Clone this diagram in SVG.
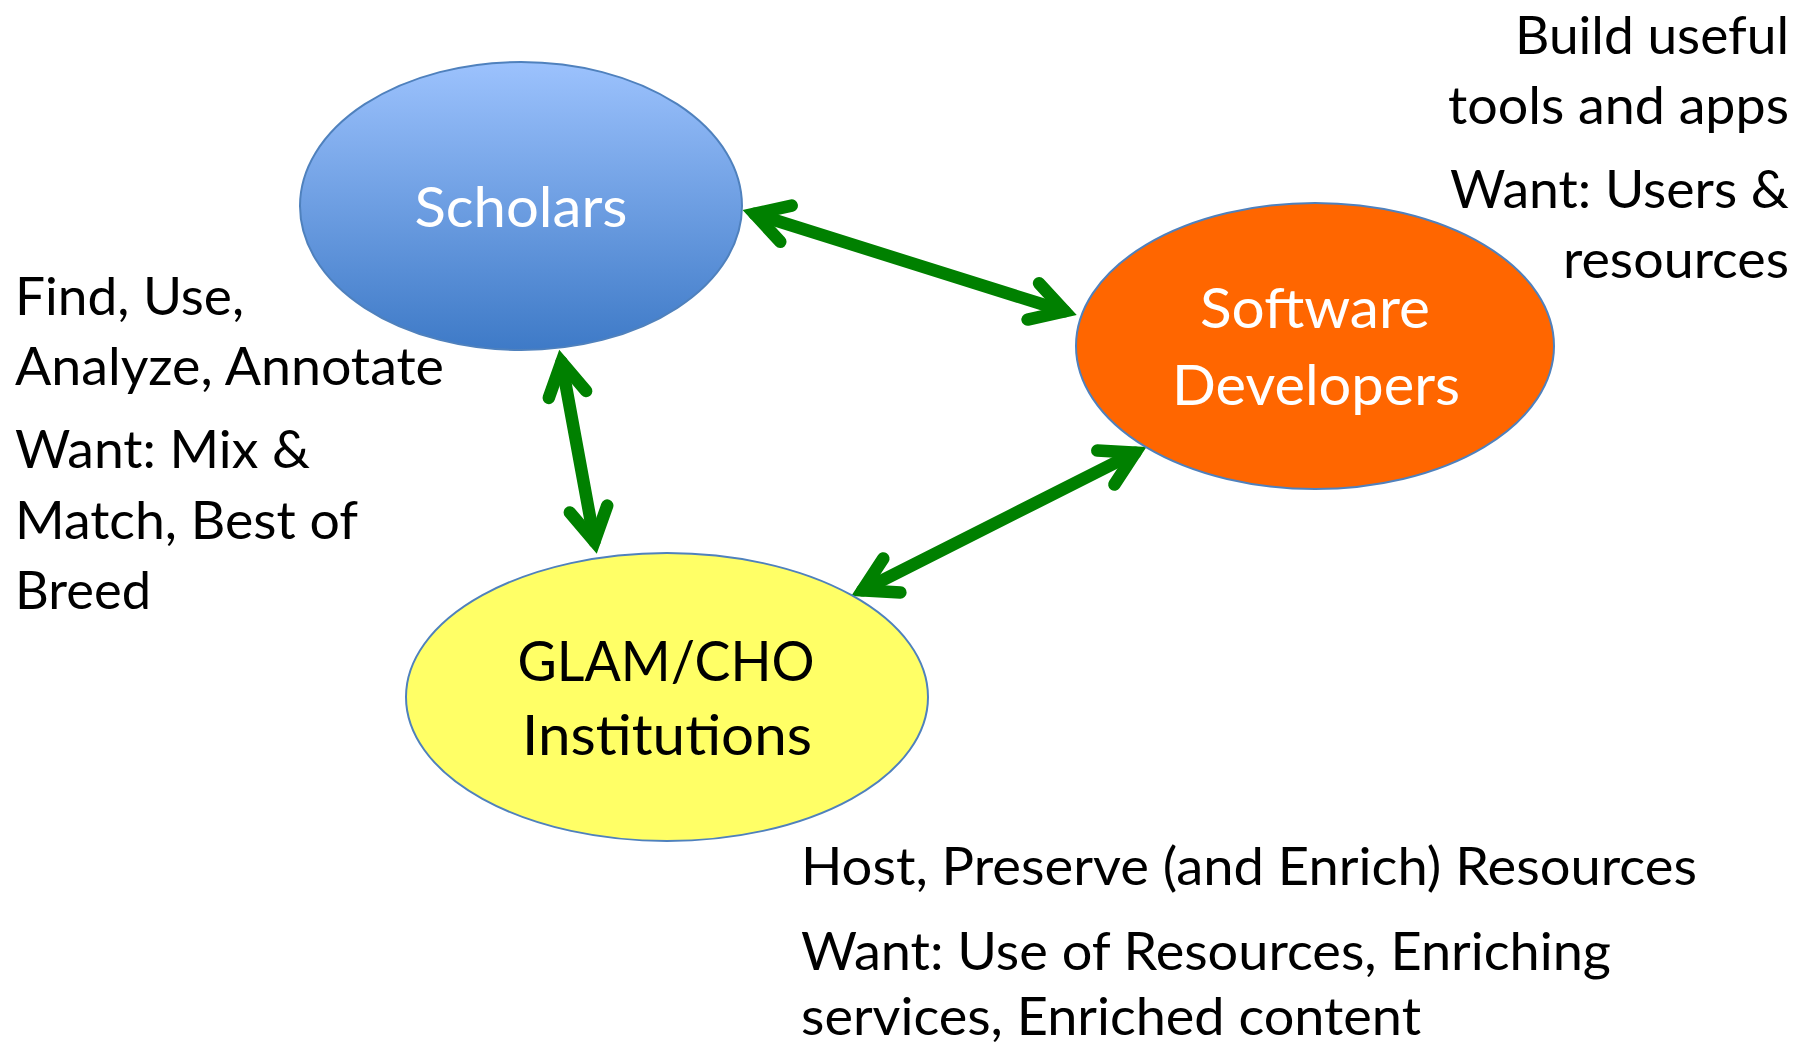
<svg xmlns="http://www.w3.org/2000/svg" width="1807" height="1046" viewBox="0 0 1807 1046">
  <style>
    .body { font-family: Lato, "Liberation Sans", sans-serif; font-size: 52px; fill: #000000; }
    .lbl { font-family: Lato, "Liberation Sans", sans-serif; font-size: 57px; text-anchor: middle; }
    .node { stroke: #4F81BD; stroke-width: 2; }
    .conn { stroke: #008000; stroke-width: 12.5; stroke-linecap: round; fill: none; marker-start: url(#chev); marker-end: url(#chev); }
  </style>
  <defs>
    <linearGradient id="blueGrad" x1="0" y1="0" x2="0" y2="1">
      <stop offset="0" stop-color="#9CC2FD"/>
      <stop offset="1" stop-color="#3E7AC7"/>
    </linearGradient>
    <marker id="chev" markerUnits="userSpaceOnUse" orient="auto-start-reverse" viewBox="-60 -40 90 80" markerWidth="90" markerHeight="80" refX="0" refY="0" overflow="visible">
      <path d="M -33 -19 L 0 0 L -33 19" fill="none" stroke="#008000" stroke-width="12.5" stroke-linecap="round" stroke-linejoin="miter" stroke-miterlimit="10"/>
    </marker>
  </defs>
  <rect width="1807" height="1046" fill="#FFFFFF"/>

  <g id="connectors">
    <line class="conn" x1="754.5" y1="213.8" x2="1064.8" y2="311.3"/>
    <line class="conn" x1="561.5" y1="362" x2="594.5" y2="541.5"/>
    <line class="conn" x1="862.4" y1="590.3" x2="1135.3" y2="452.7"/>
  </g>

  <g id="scholars">
    <ellipse class="node" cx="521" cy="206" rx="221" ry="144" fill="url(#blueGrad)"/>
    <text class="lbl" x="521" y="227" fill="#FFFFFF" textLength="213" lengthAdjust="spacingAndGlyphs">Scholars</text>
  </g>

  <g id="software-developers">
    <ellipse class="node" cx="1315" cy="346" rx="239" ry="143" fill="#FF6600"/>
    <text class="lbl" x="1315" y="328" fill="#FFFFFF" textLength="230" lengthAdjust="spacingAndGlyphs">Software</text>
    <text class="lbl" x="1316" y="405" fill="#FFFFFF" textLength="288" lengthAdjust="spacingAndGlyphs">Developers</text>
  </g>

  <g id="glam-cho">
    <ellipse class="node" cx="667" cy="697" rx="261" ry="144" fill="#FFFF66"/>
    <text class="lbl" x="666" y="681" fill="#000000" textLength="297" lengthAdjust="spacingAndGlyphs">GLAM/CHO</text>
    <text class="lbl" x="667" y="755" fill="#000000" textLength="290" lengthAdjust="spacingAndGlyphs">Institutions</text>
  </g>

  <g id="scholars-notes">
    <text class="body" x="15" y="315" textLength="229" lengthAdjust="spacingAndGlyphs">Find, Use,</text>
    <text class="body" x="15" y="385" textLength="429" lengthAdjust="spacingAndGlyphs">Analyze, Annotate</text>
    <text class="body" x="15" y="468" textLength="295" lengthAdjust="spacingAndGlyphs">Want: Mix &amp;</text>
    <text class="body" x="15" y="539" textLength="343" lengthAdjust="spacingAndGlyphs">Match, Best of</text>
    <text class="body" x="15" y="609" textLength="136" lengthAdjust="spacingAndGlyphs">Breed</text>
  </g>

  <g id="developers-notes" text-anchor="end">
    <text class="body" x="1789" y="54" textLength="274" lengthAdjust="spacingAndGlyphs">Build useful</text>
    <text class="body" x="1789" y="124" textLength="341" lengthAdjust="spacingAndGlyphs">tools and apps</text>
    <text class="body" x="1789" y="208" textLength="339" lengthAdjust="spacingAndGlyphs">Want: Users &amp;</text>
    <text class="body" x="1789" y="278" textLength="226" lengthAdjust="spacingAndGlyphs">resources</text>
  </g>

  <g id="glam-notes">
    <text class="body" x="801" y="885" textLength="896" lengthAdjust="spacingAndGlyphs">Host, Preserve (and Enrich) Resources</text>
    <text class="body" x="801" y="970" textLength="810" lengthAdjust="spacingAndGlyphs">Want: Use of Resources, Enriching</text>
    <text class="body" x="801" y="1035" textLength="620" lengthAdjust="spacingAndGlyphs">services, Enriched content</text>
  </g>
</svg>
